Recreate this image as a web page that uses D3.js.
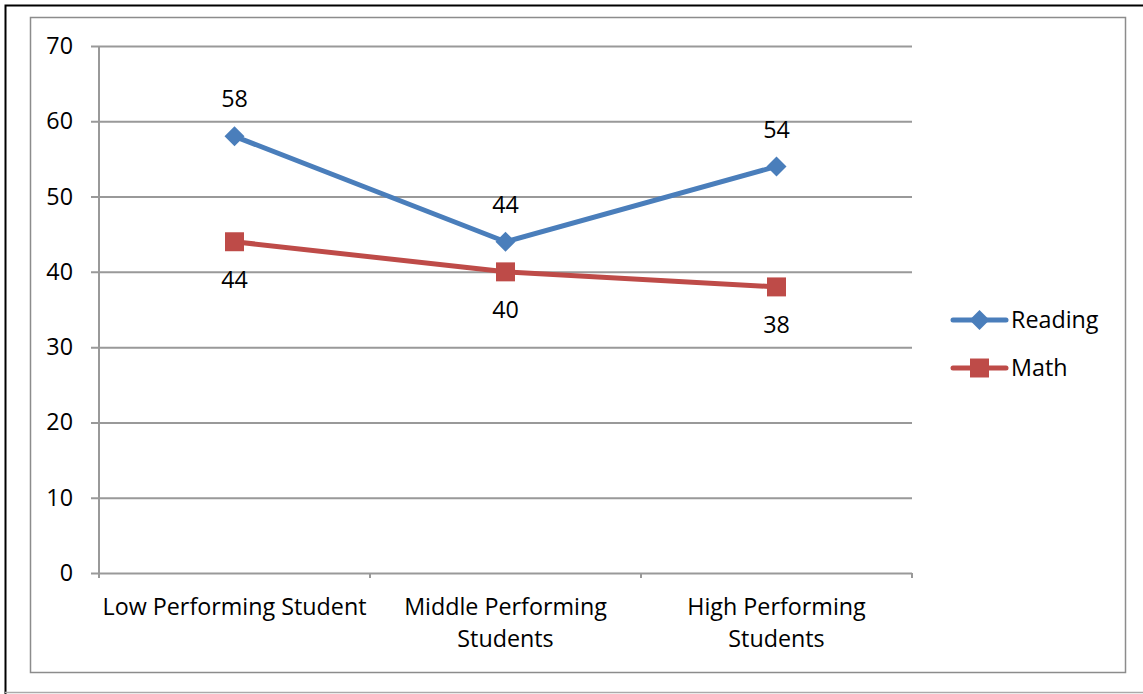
<!DOCTYPE html>
<html>
<head>
<meta charset="utf-8">
<script src="https://cdn.jsdelivr.net/npm/d3@7"></script>
<style>
  body { margin: 0; background: white; }
  text { font-family: "Open Sans", "Noto Sans", sans-serif; fill: #000; }
</style>
</head>
<body>
<svg width="1143" height="694"></svg>
<script>
const categories = ["Low Performing Student", "Middle Performing Students", "High Performing Students"];
const categoryLines = [["Low Performing Student"], ["Middle Performing", "Students"], ["High Performing", "Students"]];
const readingValues = [58, 44, 54];
const mathValues = [44, 40, 38];
const yTicks = [0, 10, 20, 30, 40, 50, 60, 70];

const svg = d3.select('svg');
const svgWidth = +svg.attr('width');
const svgHeight = +svg.attr('height');
const fontSize = 23.3;

// outer page border
svg.append('path')
    .attr('d', `M5.5,${svgHeight} V5.5 H${svgWidth}`)
    .attr('fill', 'none').attr('stroke', '#000').attr('stroke-width', 2);
svg.append('line')
    .attr('x1', 5).attr('x2', svgWidth).attr('y1', 692.5).attr('y2', 692.5)
    .attr('stroke', '#aaa').attr('stroke-width', 1.5);

// chart frame
svg.append('rect')
    .attr('x', 30.5).attr('y', 17.5).attr('width', 1095).attr('height', 655)
    .attr('fill', 'white').attr('stroke', '#8c8c8c').attr('stroke-width', 1.5);

const plot = { left: 99, right: 912, top: 46, bottom: 573 };

const xScale = d3.scaleBand()
    .domain(categories)
    .range([plot.left, plot.right]);
const yScale = d3.scaleLinear()
    .domain([0, 70])
    .range([plot.bottom, plot.top]);

const diamond = d3.symbol().type(d3.symbolSquare).size(200);
const square = d3.symbol().type(d3.symbolSquare).size(360);

const series = [
    { name: 'Reading', values: readingValues, color: '#4a7ebb', marker: diamond, rotate: 45, labelDy: -37 },
    { name: 'Math', values: mathValues, color: '#be4b48', marker: square, rotate: 0, labelDy: 38 }
];

// y axis with gridlines
const yAxis = d3.axisLeft(yScale)
    .tickValues(yTicks)
    .tickSize(-(plot.right - plot.left))
    .tickPadding(26);
const yAxisG = svg.append('g')
    .attr('transform', `translate(${plot.left},0)`)
    .call(yAxis);
yAxisG.select('.domain').remove();
yAxisG.selectAll('.tick line')
    .attr('stroke', '#999').attr('stroke-width', 2)
    .attr('x1', -8);
yAxisG.selectAll('.tick text')
    .attr('font-size', fontSize).attr('font-family', '"Open Sans", sans-serif').attr('fill', '#000');

// y axis line
svg.append('line')
    .attr('x1', plot.left).attr('x2', plot.left)
    .attr('y1', plot.top).attr('y2', plot.bottom + 4)
    .attr('stroke', '#999').attr('stroke-width', 2);

// x axis
const xEdges = categories.map(c => xScale(c)).concat([plot.right]);
svg.append('g').selectAll('line').data(xEdges).enter().append('line')
    .attr('x1', d => d).attr('x2', d => d)
    .attr('y1', plot.bottom).attr('y2', plot.bottom + 5)
    .attr('stroke', '#999').attr('stroke-width', 2);

const xLabels = svg.append('g').selectAll('text').data(categories).enter().append('text')
    .attr('x', d => xScale(d) + xScale.bandwidth() / 2)
    .attr('y', plot.bottom + 42)
    .attr('text-anchor', 'middle')
    .attr('font-size', fontSize);
xLabels.each(function(d, i) {
    d3.select(this).selectAll('tspan').data(categoryLines[i]).enter().append('tspan')
        .attr('x', xScale(d) + xScale.bandwidth() / 2)
        .attr('dy', (t, j) => j === 0 ? 0 : 32)
        .text(t => t);
});

const xPos = i => xScale(categories[i]) + xScale.bandwidth() / 2;

series.forEach(s => {
    const line = d3.line()
        .x((d, i) => xPos(i))
        .y(d => yScale(d));
    svg.append('path')
        .datum(s.values)
        .attr('d', line)
        .attr('fill', 'none')
        .attr('stroke', s.color)
        .attr('stroke-width', 5)
        .attr('stroke-linejoin', 'round')
        .attr('stroke-linecap', 'round');
    svg.append('g').selectAll('path').data(s.values).enter().append('path')
        .attr('d', s.marker)
        .attr('transform', (d, i) => `translate(${xPos(i)},${yScale(d)}) rotate(${s.rotate})`)
        .attr('fill', s.color);
    svg.append('g').selectAll('text').data(s.values).enter().append('text')
        .attr('x', (d, i) => xPos(i))
        .attr('y', d => yScale(d) + s.labelDy)
        .attr('dy', '0.35em')
        .attr('text-anchor', 'middle')
        .attr('font-size', fontSize)
        .text(d => d);
});

// legend
const legend = svg.append('g');
series.forEach((s, i) => {
    const y = 320 + i * 48;
    legend.append('line')
        .attr('x1', 953).attr('x2', 1006).attr('y1', y).attr('y2', y)
        .attr('stroke', s.color).attr('stroke-width', 5).attr('stroke-linecap', 'round');
    legend.append('path')
        .attr('d', s.marker)
        .attr('transform', `translate(979.5,${y}) rotate(${s.rotate})`)
        .attr('fill', s.color);
    legend.append('text')
        .attr('x', 1011).attr('y', y).attr('dy', '0.35em')
        .attr('font-size', fontSize)
        .text(s.name);
});
</script>
</body>
</html>
